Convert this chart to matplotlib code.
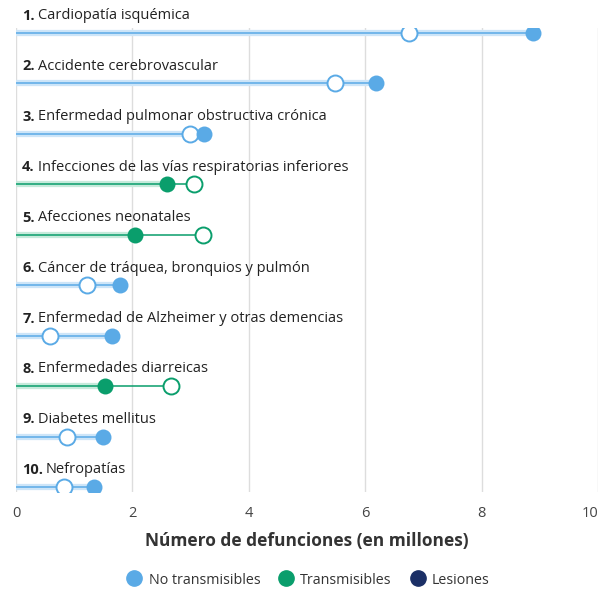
import matplotlib.pyplot as plt
from matplotlib.lines import Line2D

plt.rcParams["font.family"] = ["Open Sans", "DejaVu Sans"]

causes = [
    "Cardiopatía isquémica",
    "Accidente cerebrovascular",
    "Enfermedad pulmonar obstructiva crónica",
    "Infecciones de las vías respiratorias inferiores",
    "Afecciones neonatales",
    "Cáncer de tráquea, bronquios y pulmón",
    "Enfermedad de Alzheimer y otras demencias",
    "Enfermedades diarreicas",
    "Diabetes mellitus",
    "Nefropatías",
]
deaths_2019 = [8.88, 6.19, 3.23, 2.59, 2.04, 1.79, 1.65, 1.53, 1.49, 1.34]
deaths_2000 = [6.75, 5.48, 2.99, 3.06, 3.21, 1.22, 0.58, 2.66, 0.88, 0.82]
group = ["nt", "nt", "nt", "t", "t", "nt", "nt", "t", "nt", "nt"]

colors = {"nt": "#5aaae6", "t": "#0a9e6c", "l": "#1b2f66"}
bands = {"nt": "#cde5f8", "t": "#c6eadb", "l": "#c9cfe0"}
legend_names = {"nt": "No transmisibles", "t": "Transmisibles", "l": "Lesiones"}

fig = plt.figure(figsize=(5.98, 5.92), dpi=100)
ax = fig.add_axes([16 / 598, 1 - 492 / 592, 1 - 16 / 598, 464 / 592])

ax.set_xlim(0, 10)
ax.set_ylim(9.1, -0.1)

renderer = fig.canvas.get_renderer()
for i in range(len(causes)):
    c = colors[group[i]]
    b = bands[group[i]]
    hi = max(deaths_2019[i], deaths_2000[i])
    ax.plot([0, deaths_2019[i]], [i, i], color=b, lw=4.5, solid_capstyle="butt", zorder=2)
    ax.plot([0, hi], [i, i], color=c, lw=1.3, alpha=0.85, zorder=3)
    ax.plot(deaths_2000[i], i, "o", ms=11.5, mfc="white", mec=c, mew=1.4, zorder=4)
    ax.plot(deaths_2019[i], i, "o", ms=11.5, mfc=c, mec=c, mew=0, zorder=5)
    num = ax.annotate(str(i + 1) + ".", (0, i - 0.34), xytext=(4.5, 0),
                      textcoords="offset points", fontsize=10.5, fontweight="bold",
                      color="#222222", va="center", annotation_clip=False)
    w = num.get_window_extent(renderer).width * 72 / fig.dpi
    ax.annotate(causes[i], (0, i - 0.34), xytext=(4.5 + w + 2, 0),
                textcoords="offset points", fontsize=10.5, color="#222222", va="center",
                annotation_clip=False)

ax.set_xticks([0, 2, 4, 6, 8, 10])
ax.set_yticks([])
ax.grid(axis="x", color="#dddddd", lw=1)
ax.set_axisbelow(True)
for s in ax.spines.values():
    s.set_visible(False)
ax.tick_params(axis="x", length=0, pad=10, labelsize=10.5, labelcolor="#444444")
ax.get_xticklabels()[-1].set_ha("right")
ax.set_xlabel("Número de defunciones (en millones)", fontsize=12.5, fontweight="bold",
              color="#333333", labelpad=8)

handles = [Line2D([], [], ls="", marker="o", ms=11, mfc=colors[k], mec=colors[k],
                  label=legend_names[k]) for k in ["nt", "t", "l"]]
fig.legend(handles=handles, loc="center", bbox_to_anchor=(307 / 598, 1 - 580 / 592),
           ncol=3, frameon=False, fontsize=10.3, handletextpad=0.3, columnspacing=1.1,
           handlelength=1.4, labelcolor="#333333")

fig.savefig("out.png", dpi=100)
